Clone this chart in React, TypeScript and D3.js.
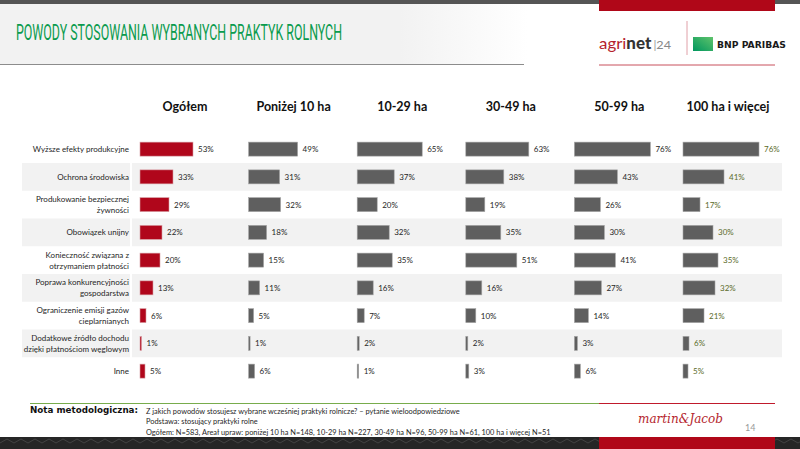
import React from "react";
import * as d3 from "d3";

const categories: string[][] = [
  ["Wyższe efekty produkcyjne"],
  ["Ochrona środowiska"],
  ["Produkowanie bezpiecznej", "żywności"],
  ["Obowiązek unijny"],
  ["Konieczność związana z", "otrzymaniem płatności"],
  ["Poprawa konkurencyjności", "gospodarstwa"],
  ["Ograniczenie emisji gazów", "cieplarnianych"],
  ["Dodatkowe źródło dochodu", "dzięki płatnościom węglowym"],
  ["Inne"],
];
const groups = ["Ogółem", "Poniżej 10 ha", "10-29 ha", "30-49 ha", "50-99 ha", "100 ha i więcej"];
const ogolem = [53, 33, 29, 22, 20, 13, 6, 1, 5];
const ponizej10 = [49, 31, 32, 18, 15, 11, 5, 1, 6];
const ha10_29 = [65, 37, 20, 32, 35, 16, 7, 2, 1];
const ha30_49 = [63, 38, 19, 35, 51, 16, 10, 2, 3];
const ha50_99 = [76, 43, 26, 30, 41, 27, 14, 3, 6];
const ha100plus = [76, 41, 17, 30, 35, 32, 21, 6, 5];
const series = [ogolem, ponizej10, ha10_29, ha30_49, ha50_99, ha100plus];

const footLines = [
  "Z jakich powodów stosujesz wybrane wcześniej praktyki rolnicze? – pytanie wieloodpowiedziowe",
  "Podstawa: stosujący praktyki rolne",
  "Ogółem: N=583, Areał upraw: poniżej 10 ha N=148, 10-29 ha N=227, 30-49 ha N=96, 50-99 ha N=61, 100 ha i więcej N=51",
];

const W = 800;
const H = 449;
const FONT = "Lato, 'Open Sans', sans-serif";

export default function App() {
  const rowKeys = categories.map((_, i) => String(i));
  const y = d3.scaleBand<string>().domain(rowKeys).range([135.25, 385]).padding(0);
  const colX = d3.scaleLinear().domain([0, 5]).range([140, 683]);
  const x = d3.scaleLinear().domain([0, 100]).range([0, 100]);
  const barH = 14;

  const zig: string[] = [];
  for (let xx = 0; xx < W; xx += 14) {
    zig.push(`${xx},443 ${xx + 7},439 ${xx + 14},443`);
  }

  return (
    <svg width={W} height={H} style={{ position: "absolute", left: 0, top: 0, background: "#fff" }}>
      <defs>
        <linearGradient id="hdr" x1="0" x2="1" y1="0" y2="0">
          <stop offset="0" stopColor="#f2f2f2" />
          <stop offset="0.5" stopColor="#f2f2f2" />
          <stop offset="0.66" stopColor="#ffffff" />
        </linearGradient>
        <linearGradient id="bnp" x1="0" x2="1" y1="1" y2="0">
          <stop offset="0" stopColor="#00965e" />
          <stop offset="1" stopColor="#5fc36b" />
        </linearGradient>
      </defs>
      {/* header */}
      <rect x={0} y={0} width={W} height={64} fill="url(#hdr)" />
      <rect x={0} y={0} width={W} height={4} fill="#555555" />
      <rect x={599} y={0} width={176} height={11} fill="#b00718" />
      <line x1={0} x2={524} y1={64.5} y2={64.5} stroke="#8c8c8c" strokeWidth={1.2} />
      <line x1={599} x2={775} y1={65} y2={65} stroke="#c8505c" strokeWidth={1} />
      <text
        x={16}
        y={40}
        fontFamily="'Liberation Sans Narrow', 'Roboto', sans-serif"
        fontSize={22}
        fill="#0a9b4e"
        textLength={326}
        lengthAdjust="spacingAndGlyphs"
      >
        POWODY STOSOWANIA WYBRANYCH PRAKTYK ROLNYCH
      </text>
      {/* logos */}
      <text x={599} y={49} fontFamily={FONT} fontSize={16} textLength={72} lengthAdjust="spacingAndGlyphs">
        <tspan fill="#b51f2e">agri</tspan>
        <tspan fill="#333" fontWeight={900}>net</tspan>
        <tspan fill="#999" fontSize={11} dx={2}>|</tspan>
        <tspan fill="#888" fontSize={12}>24</tspan>
      </text>
      <line x1={687} x2={687} y1={21} y2={55} stroke="#e0a0a8" strokeWidth={1} />
      <rect x={693} y={37} width={20} height={14} fill="url(#bnp)" />
      <text x={717} y={48} fontFamily="'DejaVu Sans', sans-serif" fontWeight="bold" fontSize={9} fill="#1a1a1a" textLength={69} lengthAdjust="spacingAndGlyphs">
        BNP PARIBAS
      </text>

      {/* row bands */}
      {rowKeys.map((k, i) =>
        i % 2 === 1 ? (
          <g key={"band" + k}>
            <rect x={22} y={y(k)!} width={108} height={y.bandwidth()} fill="#f2f2f2" />
            <rect x={132} y={y(k)!} width={650} height={y.bandwidth()} fill="#f2f2f2" />
          </g>
        ) : null
      )}

      {/* column headers */}
      {groups.map((g, j) => (
        <text key={g} x={colX(j) + 45} y={111} textAnchor="middle" fontFamily={FONT} fontWeight="bold" fontSize={12.5} fill="#111">
          {g}
        </text>
      ))}

      {/* row labels */}
      {categories.map((lines, i) => {
        const cy = y(String(i))! + y.bandwidth() / 2;
        const lh = 11;
        const start = cy - ((lines.length - 1) * lh) / 2 + 3;
        return (
          <text key={"lab" + i} textAnchor="end" fontFamily={FONT} fontSize={8} fill="#262626">
            {lines.map((l, li) => (
              <tspan key={li} x={129} y={start + li * lh}>
                {l}
              </tspan>
            ))}
          </text>
        );
      })}

      {/* bars */}
      {series.map((vals, j) =>
        vals.map((v, i) => {
          const k = String(i);
          const cy = y(k)! + y.bandwidth() / 2;
          const x0 = colX(j);
          const w = Math.max(x(v), 1.5);
          const isRed = j === 0;
          return (
            <g key={`b${j}-${i}`}>
              <rect
                x={x0}
                y={cy - barH / 2}
                width={w}
                height={barH}
                fill={isRed ? "#b0061b" : "#5f5f5f"}
                stroke={isRed ? "#d8a0a6" : "#a6a6a6"}
                strokeWidth={0.6}
              />
              <text
                x={x0 + w + 5}
                y={cy + 3}
                fontFamily={FONT}
                fontSize={8}
                fill={j === 5 ? "#5b6b2a" : "#262626"}
              >
                {v}%
              </text>
            </g>
          );
        })
      )}

      {/* footer */}
      <line x1={30} x2={599} y1={403.5} y2={403.5} stroke="#78ac4c" strokeWidth={1.2} />
      <line x1={599} x2={775} y1={403.5} y2={403.5} stroke="#c01a2c" strokeWidth={1.2} />
      <text x={30} y={413} fontFamily="'DejaVu Sans', sans-serif" fontWeight="bold" fontSize={8} fill="#111" textLength={108} lengthAdjust="spacingAndGlyphs">
        Nota metodologiczna:
      </text>
      {footLines.map((l, i) => (
        <text key={"f" + i} x={146} y={413.5 + i * 10.5} fontFamily={FONT} fontSize={7.4} fill="#262626">
          {l}
        </text>
      ))}
      <text x={638} y={423} fontFamily="'DejaVu Serif', serif" fontStyle="italic" fontSize={13} fill="#b51f2e" textLength={85} lengthAdjust="spacingAndGlyphs">
        martin&amp;Jacob
      </text>
      <text x={745} y={431} fontFamily={FONT} fontSize={9} fill="#999">
        14
      </text>
      {/* bottom strip */}
      <rect x={0} y={437} width={W} height={12} fill="#262626" />
      {zig.map((p, i) => (
        <polyline key={"z" + i} points={p} fill="none" stroke="#4a4a4a" strokeWidth={0.8} />
      ))}
      <rect x={599} y={437} width={176} height={12} fill="#b00718" />
    </svg>
  );
}
